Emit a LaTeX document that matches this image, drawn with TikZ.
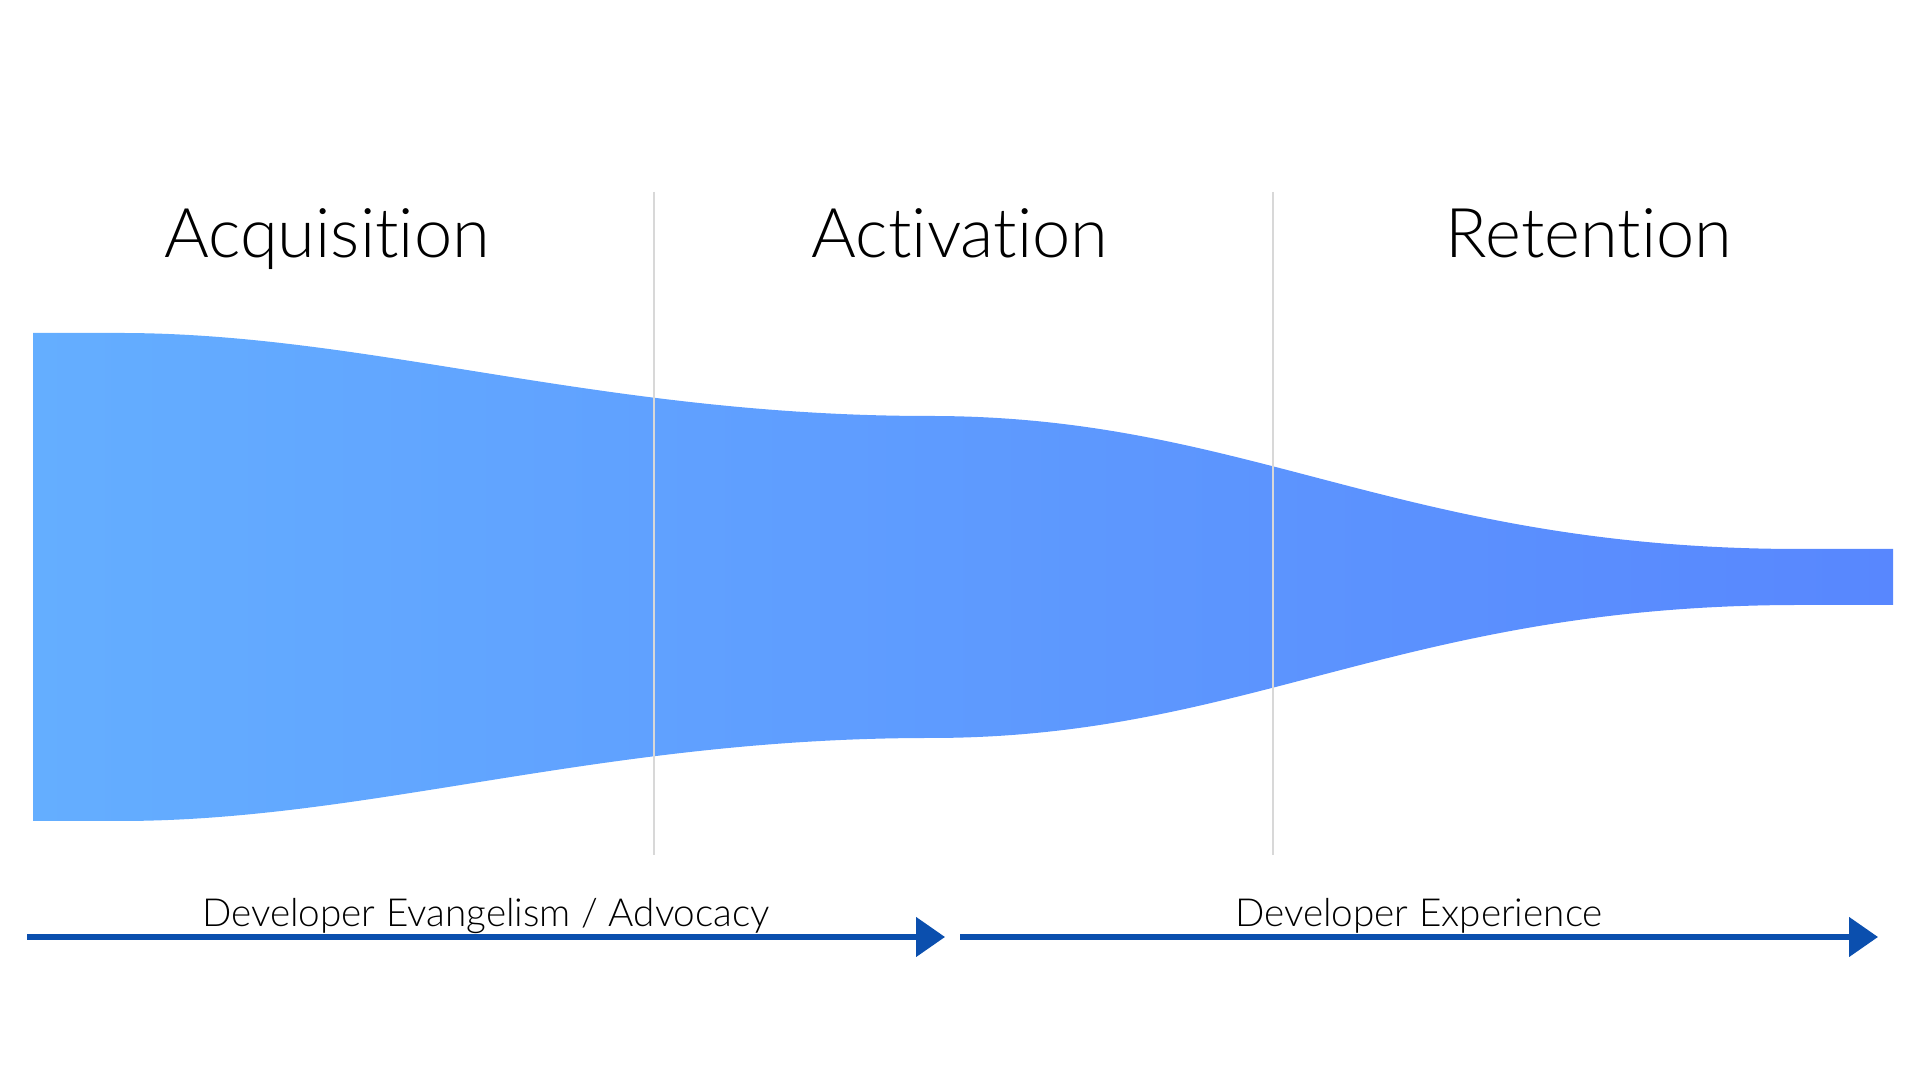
\documentclass[tikz,border=0pt]{standalone}
\usepackage{fontspec}
\setmainfont{Lato Light}[Ligatures=CommonOff]
\usetikzlibrary{arrows.meta}
\definecolor{funnelleft}{RGB}{100,174,255}
\definecolor{funnelright}{RGB}{88,135,254}
\definecolor{stagerule}{RGB}{216,216,216}
\definecolor{flowblue}{RGB}{11,79,174}
\tikzset{
    stage/.style={%
        anchor=base, inner sep=0pt,
        font=\fontsize{19.5}{23}\selectfont
        },
    track/.style={%
        anchor=base, inner sep=0pt,
        font=\fontsize{11}{13}\selectfont
        },
    divider/.style={draw=stagerule, line width=0.6pt},
    flow/.style={draw=flowblue, line width=1.45pt,
        -{Triangle[length=8.2pt, width=11pt]}},
}

\begin{document}
\begin{tikzpicture}[x=0.01cm, y=-0.01cm]

\useasboundingbox (0,0) rectangle (1920,1080);

% funnel
\shade[left color=funnelleft, right color=funnelright]
  (33,333) -- (120,333) .. controls (370,333) and (600,416) .. (930,416)
  .. controls (1250,416) and (1400,549) .. (1800,549) -- (1893,549)
  -- (1893,605) -- (1800,605) .. controls (1400,605) and (1250,738) .. (930,738)
  .. controls (600,738) and (370,821) .. (120,821) -- (33,821) -- cycle;

\coordinate (d1top) at (654,192);
\coordinate (d1bot) at (654,855);
\coordinate (d2top) at (1273,192);
\coordinate (d2bot) at (1273,855);

\draw[divider] (d1top) -- (d1bot);
\draw[divider] (d2top) -- (d2bot);

\node[stage] (acq) at (327,258) {Acquisition};

\node[stage] (act) at (960,258) {Activation};

\node[stage] (ret) at (1589,258) {Retention};

% bottom tracks
\coordinate (evstart) at (27,937);
\coordinate (evend) at (945,937);
\coordinate (dxstart) at (960,937);
\coordinate (dxend) at (1878,937);

\draw[flow] (evstart) -- (evend);
\draw[flow] (dxstart) -- (dxend);

\node[track] (evlabel) at (486,927) {Developer Evangelism / Advocacy};

\node[track] (dxlabel) at (1419,927) {Developer Experience};

\end{tikzpicture}
\end{document}
